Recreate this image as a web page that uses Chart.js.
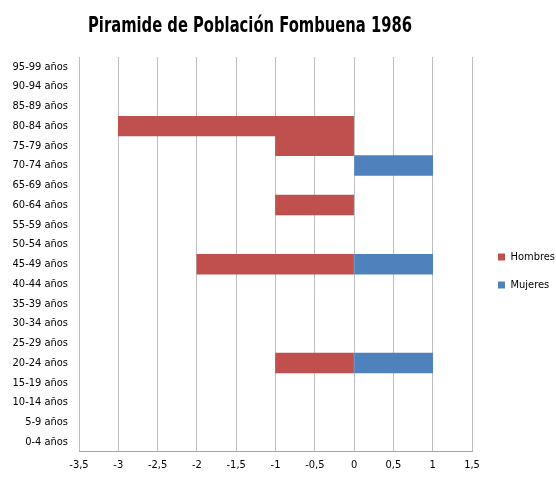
<!DOCTYPE html>
<html>
<head>
<meta charset="utf-8">
<script src="https://cdn.jsdelivr.net/npm/chart.js@4"></script>
<style>
  body { margin: 0; background: #fff; }
</style>
</head>
<body>
<canvas id="piramide" width="556" height="482"></canvas>
<script>
const grupos = ["95-99 años", "90-94 años", "85-89 años", "80-84 años", "75-79 años",
    "70-74 años", "65-69 años", "60-64 años", "55-59 años", "50-54 años",
    "45-49 años", "40-44 años", "35-39 años", "30-34 años", "25-29 años",
    "20-24 años", "15-19 años", "10-14 años", "5-9 años", "0-4 años"];
const hombres = [null, null, null, -3, -1, null, null, -1, null, null, -2, null, null, null, null, -1, null, null, null, null];
const mujeres = [null, null, null, null, null, 1, null, null, null, null, 1, null, null, null, null, 1, null, null, null, null];
const titulo = "Piramide de Población Fombuena 1986";

const fuente = "'DejaVu Sans Condensed', 'DejaVu Sans', sans-serif";

// titulo dibujado a mano (estrechado) para ponerlo donde esta en el original
const tituloPlugin = {
    id: "tituloPlugin",
    afterLayout(chart) {
        // mover la leyenda al sitio del original
        const lg = chart.legend;
        const dx = 481 - lg.left;
        const dy = 3;
        lg.left += dx; lg.right += dx;
        lg.top += dy; lg.bottom += dy;
    },
    afterDraw(chart) {
        const ctx = chart.ctx;
        ctx.save();
        ctx.font = "bold 22px " + fuente;
        ctx.fillStyle = "#000";
        ctx.textAlign = "center";
        ctx.textBaseline = "middle";
        const w = ctx.measureText(titulo).width;
        const k = 324 / w;
        ctx.translate(250, 26);
        ctx.scale(k, 1);
        ctx.fillText(titulo, 0, 0);
        ctx.restore();
    }
};

new Chart("piramide", {
    type: "bar",
    data: {
        labels: grupos,
        datasets: [{
                label: "Hombres",
                data: hombres,
                backgroundColor: "#C0504D",
                barPercentage: 1,
                categoryPercentage: 1
            }, {
                label: "Mujeres",
                data: mujeres,
                backgroundColor: "#4F81BD",
                barPercentage: 1,
                categoryPercentage: 1
            }]
    },
    options: {
        indexAxis: "y",
        responsive: false,
        animation: false,
        layout: {padding: {top: 57, left: 0, right: 0, bottom: 3}},
        scales: {
            x: {
                stacked: true,
                min: -3.5,
                max: 1.5,
                ticks: {
                    stepSize: 0.5,
                    color: "#000",
                    font: {family: fuente, size: 11},
                    padding: 7,
                    callback: v => String(v).replace(".", ",")
                },
                grid: {color: "#BEBEBE", drawTicks: false},
                border: {color: "#A6A6A6"}
            },
            y: {
                stacked: true,
                afterFit: s => { s.width = 79; },
                ticks: {
                    color: "#000",
                    font: {family: fuente, size: 11},
                    padding: 3
                },
                grid: {display: false},
                border: {display: false}
            }
        },
        plugins: {
            legend: {
                position: "right",
                labels: {
                    boxWidth: 7,
                    boxHeight: 7,
                    color: "#000",
                    font: {family: fuente, size: 11},
                    padding: 17
                }
            },
            tooltip: {enabled: false}
        }
    },
    plugins: [tituloPlugin]
});
</script>
</body>
</html>
